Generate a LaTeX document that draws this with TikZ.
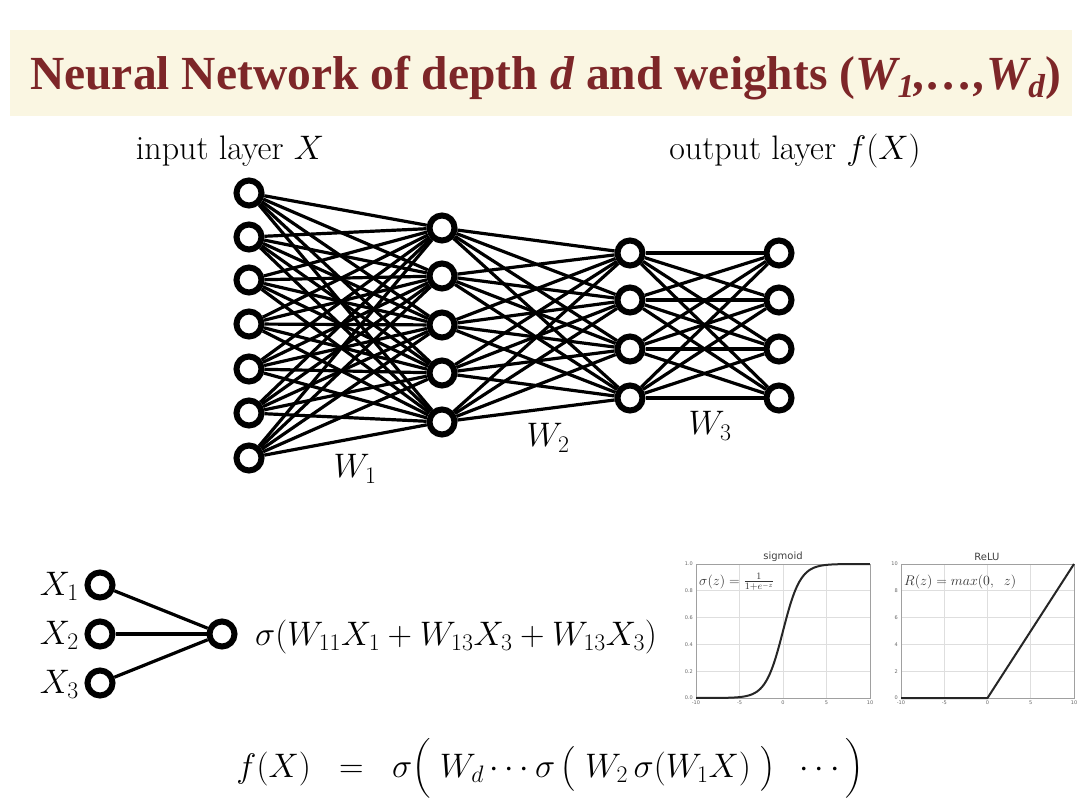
\RequirePackage{fix-cm}
\documentclass[tikz,border=0pt]{standalone}
\usepackage{amsmath}
\usepackage{fontspec}
\newfontfamily\titlefont{Liberation Serif}
\newfontfamily\plotfont{DejaVu Sans}
\definecolor{band}{RGB}{250,246,226}
\definecolor{titlered}{RGB}{125,38,40}
\definecolor{gridc}{RGB}{222,222,222}
\definecolor{framec}{RGB}{160,160,160}
\begin{document}
\begin{tikzpicture}[x=1pt,y=-1pt,
  neuron/.style={circle, draw=black, fill=white, line width=6pt, minimum size=25pt, inner sep=0pt},
  edge/.style={line width=3.2pt},
  txt/.style={font=\fontsize{34}{40}\selectfont, inner sep=0pt},
  ticklab/.style={font=\plotfont\fontsize{5}{6}\selectfont, text=black!60, inner sep=0pt},
  plottitle/.style={font=\plotfont\fontsize{10}{12}\selectfont, text=black!75, inner sep=0pt},
  plotformula/.style={font=\fontsize{14}{16}\selectfont, text=black!80, inner sep=0pt},
  gridline/.style={draw=gridc, line width=0.8pt},
  frameline/.style={draw=framec, line width=1pt},
  curve/.style={draw=black!85, line width=2pt}]
\useasboundingbox[fill=white] (0,0) rectangle (1080,810);
% title band
\fill[band] (10,30) rectangle (1072,116);
\node[anchor=base west, inner sep=0pt, text=titlered,
  font=\titlefont\bfseries\fontsize{47.5}{54}\selectfont] (title) at (30,90)
  {Neural Network of depth \textit{d} and weights (\textit{W\textsubscript{1},\ldots,W\textsubscript{d}})};
% layer labels
\node[txt, anchor=base] (inlab) at (230,160) {input layer $X$};
\node[txt, anchor=base] (outlab) at (795,160) {output layer $f(X)$};
% neurons
\foreach \y [count=\i] in {193,237,280,324,369,413,458} \node[neuron] (a\i) at (249,\y) {};
\foreach \y [count=\i] in {228,276,325,373,422} \node[neuron] (b\i) at (442,\y) {};
\foreach \y [count=\i] in {253,300,349,398} \node[neuron] (c\i) at (630,\y) {};
\foreach \y [count=\i] in {253,300,349,398} \node[neuron] (d\i) at (779,\y) {};
% edges
\foreach \i in {1,...,7} \foreach \j in {1,...,5} \draw[edge] (a\i) -- (b\j);
\foreach \i in {1,...,5} \foreach \j in {1,...,4} \draw[edge] (b\i) -- (c\j);
\foreach \i in {1,...,4} \foreach \j in {1,...,4} \draw[edge] (c\i) -- (d\j);
% weight labels
\node[txt, anchor=base] (w1) at (355,478) {$W_1$};
\node[txt, anchor=base] (w2) at (548,447) {$W_2$};
\node[txt, anchor=base] (w3) at (710,435) {$W_3$};
% single neuron
\node[neuron] (x1) at (100,585) {};
\node[neuron] (x2) at (100,634) {};
\node[neuron] (x3) at (100,683) {};
\node[neuron] (s) at (222,634) {};
\draw[edge] (x1) -- (s);
\draw[edge] (x2) -- (s);
\draw[edge] (x3) -- (s);
\node[txt, anchor=base east] (lx1) at (79,595) {$X_1$};
\node[txt, anchor=base east] (lx2) at (79,644) {$X_2$};
\node[txt, anchor=base east] (lx3) at (79,693) {$X_3$};
\node[txt, anchor=base west] (neq) at (255,645) {$\sigma(W_{11}X_1+W_{13}X_3+W_{13}X_3)$};
% main formula
\node[txt, anchor=base] (feq) at (550,777)
  {$f(X)\;\;=\;\;\sigma\Big(\;W_d\cdots\sigma\,\big(\;W_2\,\sigma(W_1X)\;\big)\;\;\cdots\Big)$};
% sigmoid plot
\foreach \z in {-5,0,5} \draw[gridline] ({783+8.7*\z},564) -- ({783+8.7*\z},698);
\foreach \s in {0.2,0.4,0.6,0.8} \draw[gridline] (696,{698-134*\s}) -- (870,{698-134*\s});
\draw[frameline] (696,564) rectangle (870,698);
\draw[curve] (696,698) -- plot[domain=-9:10, samples=90, smooth] ({783+8.7*\x},{698-134/(1+exp(-\x))});
\node[plottitle] (sigt) at (783,557) {sigmoid};
\node[plotformula, anchor=west] (sigf) at (699,582) {$\sigma(z)=\frac{1}{1+e^{-z}}$};
\foreach \z/\l in {-10/-10,-5/-5,0/0,5/5,10/10} \node[ticklab] at ({783+8.7*\z},703) {\l};
\foreach \s/\l in {0/0.0,0.2/0.2,0.4/0.4,0.6/0.6,0.8/0.8,1/1.0} \node[ticklab, anchor=east] at (693,{698-134*\s}) {\l};
% ReLU plot
\foreach \z in {-5,0,5} \draw[gridline] ({987.5+8.65*\z},564) -- ({987.5+8.65*\z},698);
\foreach \v in {2,4,6,8} \draw[gridline] (901,{698-13.4*\v}) -- (1074,{698-13.4*\v});
\draw[frameline] (901,564) rectangle (1074,698);
\draw[curve] (901,698) -- (987.5,698) -- (1074,564);
\node[plottitle] (relut) at (987,557) {ReLU};
\node[plotformula, anchor=west] (reluf) at (904,582) {$R(z)=max(0,\;\;z)$};
\foreach \z/\l in {-10/-10,-5/-5,0/0,5/5,10/10} \node[ticklab] at ({987.5+8.65*\z},703) {\l};
\foreach \v in {0,2,4,6,8,10} \node[ticklab, anchor=east] at (898,{698-13.4*\v}) {\v};
\end{tikzpicture}
\end{document}
